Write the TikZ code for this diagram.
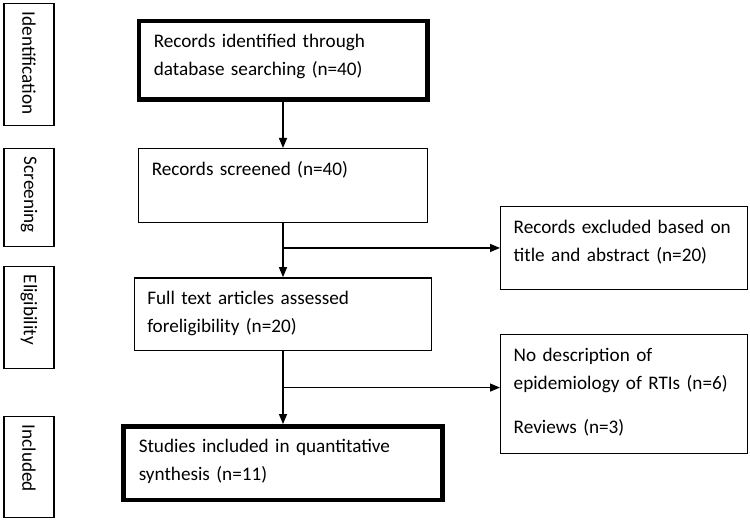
\documentclass[tikz,border=0pt]{standalone}
\usepackage{fontspec}
\setmainfont{Carlito}
\usepackage{tikz}
\usetikzlibrary{positioning,calc,arrows.meta}

\tikzset{
    stepbox/.style={draw, line width=1.4bp, align=left, inner xsep=13bp, inner ysep=0pt,
        text height=26.5bp, font=\fontsize{19.2bp}{28bp}\selectfont},
    heavybox/.style={stepbox, line width=4.5bp, inner xsep=15bp},
    stage/.style={draw, line width=1.4bp, rotate=-90, align=left, inner xsep=8bp, inner ysep=0pt,
        minimum height=50bp, font=\fontsize{19.2bp}{28bp}\selectfont},
    flowarrow/.style={line width=1.3bp, -{Triangle[length=10bp,width=8bp]}}
}

\begin{document}
\begin{tikzpicture}[x=1bp, y=-1bp]
    \useasboundingbox (0,0) rectangle (750,523);

    % phases on the left
    \node [stage, text width=105.6bp] (sident) at (29,64.5) {Identification};
    \node [stage, text width=81.6bp] (sscreen) at (29,197.5) {Screening};
    \node [stage, text width=85.6bp] (selig) at (29,317.5) {Eligibility};
    \node [stage, text width=84.6bp] (sincl) at (29,467) {Included};

    % main column
    \node [heavybox, text width=258.5bp, text depth=52bp, anchor=north] (ident) at (283,19)
        {Records identified through\\database searching (n=40)};
    \node [stepbox, text width=262.5bp, text depth=47.25bp, below=46bp of ident] (screen)
        {Records screened (n=40)};
    \node [stepbox, text width=271.5bp, text depth=46bp, below=54bp of screen] (full)
        {Full text articles assessed\\foreligibility (n=20)};
    \node [heavybox, text width=288.5bp, text depth=47bp, below=73bp of full] (incl)
        {Studies included in quantitative\\synthesis (n=11)};

    % exclusions
    \node [stepbox, text width=220.5bp, text depth=56bp, anchor=north west] (excl) at (500,206)
        {Records excluded based on\\title and abstract (n=20)};
    \node [stepbox, text width=220.5bp, text depth=92bp, anchor=north west] (nodesc) at (500,334)
        {No description of\\epidemiology of RTIs (n=6)\\[16bp]Reviews (n=3)};

    \draw [flowarrow] (ident) -- (screen);
    \draw [flowarrow] (screen) -- (full);
    \draw [flowarrow] (full) -- (incl);

    \coordinate (split1) at (screen.south |- excl.west);
    \coordinate (split2) at ($(full.south)!0.5!(incl.north)$);
    \draw [flowarrow] (split1) -- (excl.west);
    \draw [flowarrow] (split2) -- (split2 -| nodesc.west);
\end{tikzpicture}
\end{document}
